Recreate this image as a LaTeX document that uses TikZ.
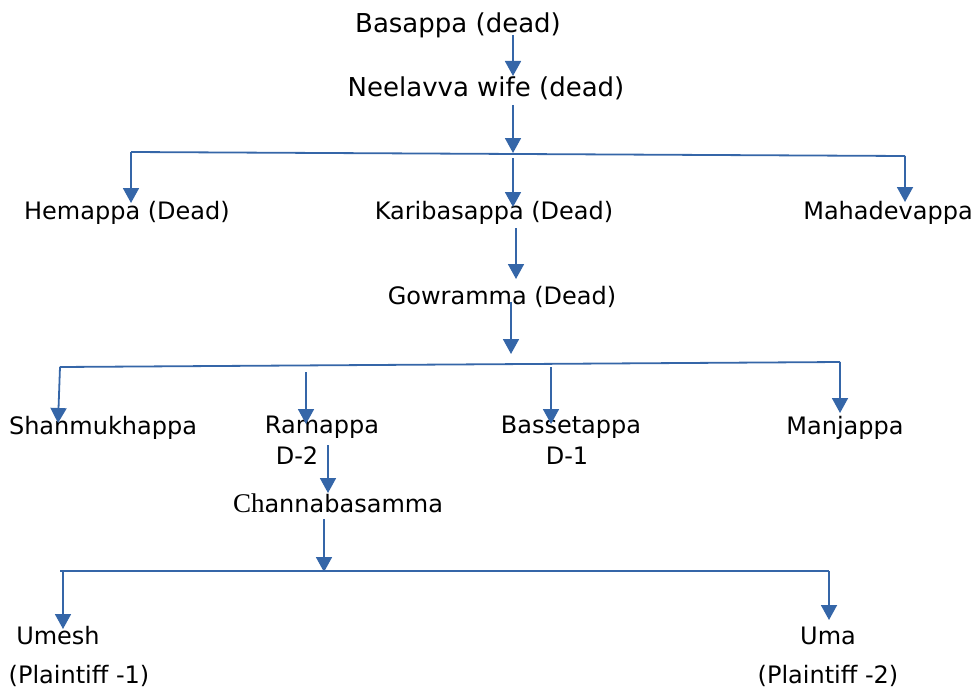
\documentclass[tikz,border=0pt]{standalone}
\usepackage{fontspec}
\setmainfont{DejaVu Sans}
\newfontfamily\chserif{Liberation Serif}
\usetikzlibrary{arrows.meta}
\definecolor{linkblue}{HTML}{3566A8}
\tikzset{
  big/.style={inner sep=0pt, font=\fontsize{26}{30}\selectfont},
  lbl/.style={inner sep=0pt, font=\fontsize{24}{28}\selectfont},
  link/.style={draw=linkblue, line width=1.8pt},
  arr/.style={link, -{Triangle[width=16pt,length=15pt]}}
}
\begin{document}
\begin{tikzpicture}[x=1pt,y=-1pt]
\useasboundingbox (0,0) rectangle (976,690);
% people
\node[big] (bas) at (458,25.5) {Basappa (dead)};
\node[big] (nee) at (486,88) {Neelavva wife (dead)};
\node[lbl] (hem) at (127,213) {Hemappa (Dead)};
\node[lbl] (kar) at (494,213) {Karibasappa (Dead)};
\node[lbl] (mah) at (888,213) {Mahadevappa};
\node[lbl] (gow) at (502,297) {Gowramma (Dead)};
\node[lbl] (sha) at (103,427.5) {Shanmukhappa};
\node[lbl] (ram) at (322,427.5) {Ramappa};
\node[lbl] (ramd) at (297,455.5) {D-2};
\node[lbl] (bss) at (571,427.5) {Bassetappa};
\node[lbl] (bssd) at (567,455.5) {D-1};
\node[lbl] (man) at (845,427.5) {Manjappa};
\node[lbl] (cha) at (338,503) {{\fontsize{27}{30}\selectfont\chserif Ch}annabasamma};
\node[lbl] (ume) at (58,636) {Umesh};
\node[lbl] (umep) at (79,676) {(Plaintiff -1)};
\node[lbl] (uma) at (828,636) {Uma};
\node[lbl] (umap) at (828,676) {(Plaintiff -2)};
% connector points
\coordinate (a1s) at (513,35);   \coordinate (a1e) at (513,76);
\coordinate (a2s) at (513,105);  \coordinate (a2e) at (513,153);
\coordinate (b1l) at (131,152);  \coordinate (b1r) at (905,156);
\coordinate (hemt) at (131,203); \coordinate (maht) at (905,202);
\coordinate (kars) at (513,158); \coordinate (kart) at (513,207);
\coordinate (a3s) at (516,228);  \coordinate (a3e) at (516,279);
\coordinate (a4s) at (511,302);  \coordinate (a4e) at (511,354);
\coordinate (b2l) at (60,367);   \coordinate (b2r) at (840,362);
\coordinate (shat) at (58,423);
\coordinate (rams) at (306,372); \coordinate (ramt) at (306,424);
\coordinate (bsss) at (551,367); \coordinate (bsst) at (551,424);
\coordinate (mant) at (840,413);
\coordinate (a5s) at (328,445);  \coordinate (a5e) at (328,493);
\coordinate (a6s) at (324,519);  \coordinate (a6e) at (324,572);
\coordinate (b3l) at (60,571);   \coordinate (b3r) at (829,571);
\coordinate (umes) at (63,571);  \coordinate (umet) at (63,629);
\coordinate (umat) at (829,620);
% connectors
\draw[arr] (a1s) -- (a1e);
\draw[arr] (a2s) -- (a2e);
\draw[link] (b1l) -- (b1r);
\draw[arr] (b1l) -- (hemt);
\draw[arr] (b1r) -- (maht);
\draw[arr] (kars) -- (kart);
\draw[arr] (a3s) -- (a3e);
\draw[arr] (a4s) -- (a4e);
\draw[link] (b2l) -- (b2r);
\draw[arr] (b2l) -- (shat);
\draw[arr] (rams) -- (ramt);
\draw[arr] (bsss) -- (bsst);
\draw[arr] (b2r) -- (mant);
\draw[arr] (a5s) -- (a5e);
\draw[arr] (a6s) -- (a6e);
\draw[link] (b3l) -- (b3r);
\draw[arr] (umes) -- (umet);
\draw[arr] (b3r) -- (umat);
\end{tikzpicture}
\end{document}
